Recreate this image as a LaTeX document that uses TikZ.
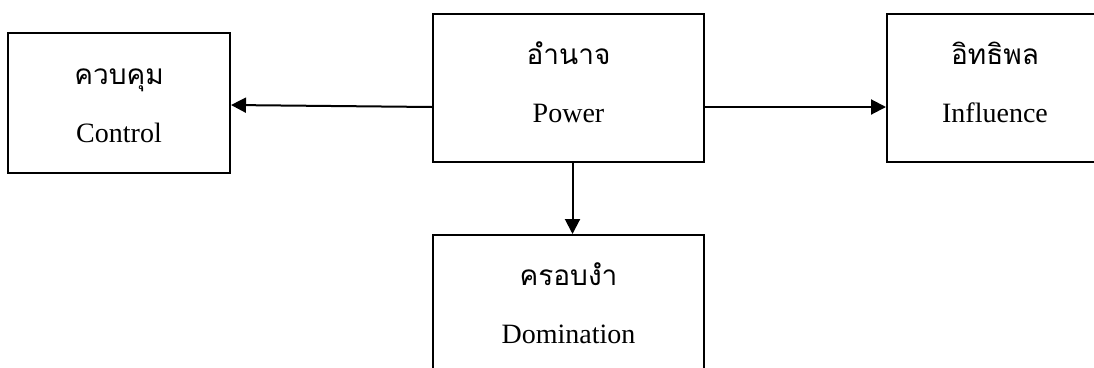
\documentclass[tikz,border=0pt]{standalone}
\usepackage{fontspec}
\setmainfont{Liberation Serif}
\newfontfamily\thaifont[Script=Thai]{Loma}
\usetikzlibrary{positioning, arrows.meta}

\begin{document}
\begin{tikzpicture}[
    x=1pt, y=-1pt,
    concept/.style={rectangle, draw, line width=2pt, align=center, inner sep=0pt, text height=68pt, text depth=0pt, font=\fontsize{28pt}{58pt}\selectfont},
    link/.style={-{Triangle[length=15pt,width=15pt]}, line width=2pt}
]
\useasboundingbox (0,0) rectangle (1094,367);

\node [concept, minimum width=222pt, minimum height=140pt, text height=78pt] (control) at (119,103) {{\thaifont ควบคุม}\\ Control};
\node [concept, minimum width=271pt, minimum height=148pt] (power) at (568.5,88) {{\thaifont อำนาจ}\\ Power};
\node [concept, minimum width=216pt, minimum height=148pt] (influence) at (995,88) {{\thaifont อิทธิพล}\\ Influence};
\node [concept, minimum width=271pt, minimum height=148pt] (domination) at (568.5,309) {{\thaifont ครอบงำ}\\ Domination};

\draw [link] ([yshift=-19pt]power.west) -- ([yshift=-2pt]control.east);
\draw [link] ([yshift=-19pt]power.east) -- ([yshift=-19pt]influence.west);
\draw [link] ([xshift=4pt]power.south) -- ([xshift=4pt]domination.north);

\end{tikzpicture}
\end{document}
